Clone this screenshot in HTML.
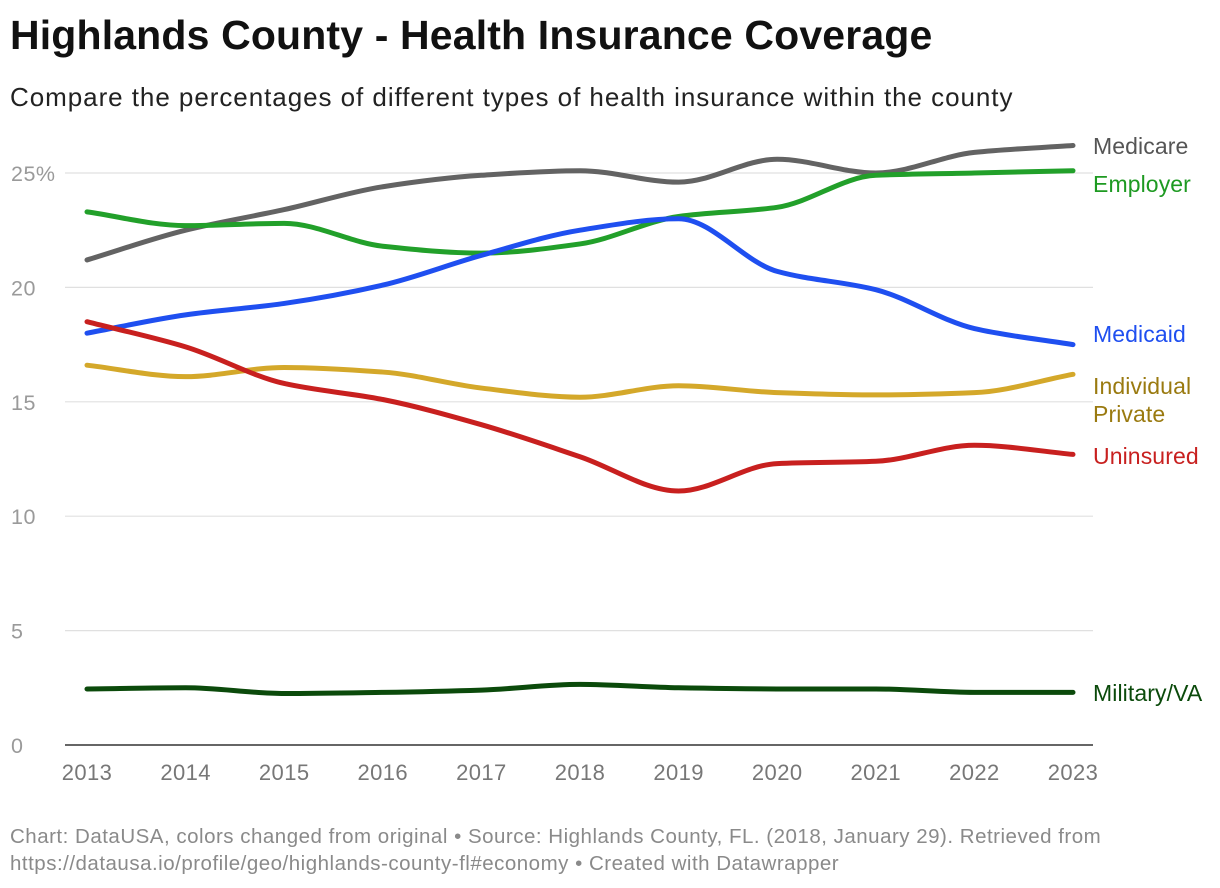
<!DOCTYPE html>
<html><head><meta charset="utf-8"><style>
body{margin:0;background:#fff;font-family:"Liberation Sans",Arial,sans-serif;}
#wrap{position:relative;width:1220px;height:888px;overflow:hidden}
h1{position:absolute;left:10px;top:12px;margin:0;font-size:41px;font-weight:bold;color:#111;letter-spacing:0.15px;white-space:nowrap}
.sub{position:absolute;left:10px;top:82px;font-size:26px;color:#222;letter-spacing:0.95px;white-space:nowrap}
.foot{position:absolute;left:10px;top:823px;font-size:20.5px;color:#8a8a8a;line-height:27px;letter-spacing:0.5px;white-space:nowrap}
</style></head><body>
<div id="wrap">
<h1>Highlands County - Health Insurance Coverage</h1>
<div class="sub">Compare the percentages of different types of health insurance within the county</div>
<svg id="chart" width="1220" height="888" style="position:absolute;left:0;top:0"></svg>
<div class="foot">Chart: DataUSA, colors changed from original • Source: Highlands County, FL. (2018, January 29). Retrieved from<br>https://datausa.io/profile/geo/highlands-county-fl#economy • Created with Datawrapper</div>
</div>
<script>
const years=[2013,2014,2015,2016,2017,2018,2019,2020,2021,2022,2023];
const yTicks=[0,5,10,15,20,25];
const medicare=[21.2,22.5,23.4,24.4,24.9,25.1,24.6,25.6,25.0,25.9,26.2];
const employer=[23.3,22.7,22.8,21.8,21.5,21.9,23.1,23.5,24.9,25.0,25.1];
const medicaid=[18.0,18.8,19.3,20.1,21.4,22.5,23.0,20.7,19.9,18.2,17.5];
const individual=[16.6,16.1,16.5,16.3,15.6,15.2,15.7,15.4,15.3,15.4,16.2];
const uninsured=[18.5,17.4,15.8,15.1,14.0,12.6,11.1,12.3,12.4,13.1,12.7];
const military=[2.45,2.5,2.25,2.3,2.4,2.65,2.5,2.45,2.45,2.3,2.3];
const seriesNames=["Medicare","Employer","Medicaid","Individual Private","Uninsured","Military/VA"];
const series=[medicare,employer,medicaid,individual,uninsured,military];
const colors=["#636363","#22a02a","#1f4ff0","#d4a82a","#c8201f","#0b4a0b"];
const labelColors=["#555","#1e9a22","#1f4ff0","#9a7a10","#c8201f","#0b4a0b"];
const NS="http://www.w3.org/2000/svg";
const svg=document.getElementById('chart');
const x=v=>87+(v-2013)*(1073-87)/10;
const y=v=>745-v*(745-173)/25;
function mk(t,a){const e=document.createElementNS(NS,t);for(const k in a)e.setAttribute(k,a[k]);svg.appendChild(e);return e;}
yTicks.forEach(t=>{
 const g=mk('line',{x1:65,x2:1093,y1:y(t),y2:y(t),stroke:t===0?'#333':'#e0e0e0','stroke-width':t===0?1.5:1.2});
 
 
 const l=mk('text',{x:11,y:y(t)+8,'font-size':21.5,fill:'#9a9a9a','letter-spacing':0.5});
 l.textContent=t===25?'25%':String(t);
 
 
});
years.forEach(yr=>{
 const l=mk('text',{x:x(yr),y:780,'font-size':22,fill:'#777','text-anchor':'middle','letter-spacing':0.4});
 l.textContent=yr;
 
 
});
function monotone(xs,ys){
 const n=xs.length,d=[],m=[];
 for(let i=0;i<n-1;i++)d.push((ys[i+1]-ys[i])/(xs[i+1]-xs[i]));
 m[0]=d[0];m[n-1]=d[n-2];
 for(let i=1;i<n-1;i++)m[i]=d[i-1]*d[i]<=0?0:(2*d[i-1]*d[i])/(d[i-1]+d[i]);
 let p='M'+xs[0]+','+ys[0];
 for(let i=0;i<n-1;i++){const h=(xs[i+1]-xs[i])/3;
  p+=' C'+(xs[i]+h)+','+(ys[i]+m[i]*h)+' '+(xs[i+1]-h)+','+(ys[i+1]-m[i+1]*h)+' '+xs[i+1]+','+ys[i+1];}
 return p;
}
const labelY=[146,184,334,386,456,693];
series.forEach((s,i)=>{
 const p=mk('path',{d:monotone(years.map(x),s.map(y)),fill:'none',stroke:colors[i],'stroke-width':5,'stroke-linecap':'round'});
 
 
});
series.forEach((s,i)=>{
 const t=mk('text',{x:1093,y:labelY[i]+8,'font-size':23,fill:labelColors[i],'letter-spacing':0.1});
 if(i===3){t.innerHTML='<tspan x="1093">Individual</tspan><tspan x="1093" dy="28">Private</tspan>';}
 else t.textContent=seriesNames[i];
 
 
});
</script>
</body></html>
